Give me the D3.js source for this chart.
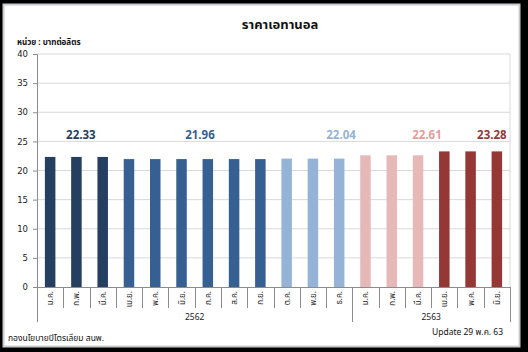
<!DOCTYPE html>
<html><head><meta charset="utf-8">
<script src="https://cdn.jsdelivr.net/npm/d3@7"></script>
<style>
html,body{margin:0;padding:0;background:#000;}
svg{display:block;}
text{font-family:Tahoma,"Noto Sans Thai","Noto Sans","DejaVu Sans",sans-serif;}
</style></head><body>
<svg id="c" width="528" height="352"></svg>
<script>
const months = ["ม.ค.","ก.พ.","มี.ค.","เม.ย.","พ.ค.","มิ.ย.","ก.ค.","ส.ค.","ก.ย.","ต.ค.","พ.ย.","ธ.ค.","ม.ค.","ก.พ.","มี.ค.","เม.ย.","พ.ค.","มิ.ย."];
const years = ["2562","2563"];
const yearSpan = [12, 6];
const values = [22.33,22.33,22.33,21.96,21.96,21.96,21.96,21.96,21.96,22.04,22.04,22.04,22.61,22.61,22.61,23.28,23.28,23.28];
const groupOf = [0,0,0,1,1,1,1,1,1,2,2,2,3,3,3,4,4,4];
const groupColors = ["#243F60","#376092","#95B3D7","#E6B9B8","#953735"];
const labelColors = ["#243F60","#376092","#95B3D7","#E39C9B","#953735"];
const groupLabels = ["22.33","21.96","22.04","22.61","23.28"];
const groupLabelPos = [1.17, 5.7, 11.07, 14.34, 16.81];
const yTicks = [0,5,10,15,20,25,30,35,40];

const svg = d3.select("#c");
svg.append("rect").attr("x",3.5).attr("y",4.5).attr("width",516).attr("height",342)
  .attr("fill","#fff").attr("stroke","#c8ccd0").attr("stroke-width",2);

const L=37, R=510, T=54, B=287;
const x = d3.scaleBand().domain(d3.range(months.length)).range([L,R]).paddingInner(0.6).paddingOuter(0.3);
const step = x.step();
const y = d3.scaleLinear().domain([0,40]).range([B,T]);

// grid
svg.append("g").selectAll("line").data(yTicks.filter(d=>d>0)).join("line")
  .attr("x1",L).attr("x2",R).attr("y1",d=>y(d)).attr("y2",d=>y(d))
  .attr("stroke","#d9d9d9").attr("stroke-width",1);
svg.append("line").attr("x1",R).attr("x2",R).attr("y1",T).attr("y2",B).attr("stroke","#d9d9d9");

// bars
svg.append("g").selectAll("rect").data(values).join("rect")
  .attr("x",(d,i)=>x(i)).attr("width",x.bandwidth())
  .attr("y",d=>y(d)).attr("height",d=>B-y(d))
  .attr("fill",(d,i)=>groupColors[groupOf[i]]);

// y axis
const ya = svg.append("g").attr("transform",`translate(${L},0)`)
  .call(d3.axisLeft(y).tickValues(yTicks).tickSize(4).tickPadding(5));
ya.select(".domain").attr("stroke","#8c8c8c");
ya.selectAll(".tick line").attr("stroke","#8c8c8c");
ya.selectAll("text").attr("font-size",8.5).attr("fill","#222").style("font-family","Tahoma,'DejaVu Sans',sans-serif");

// x axis line
svg.append("line").attr("x1",L).attr("x2",R).attr("y1",B+0.5).attr("y2",B+0.5).attr("stroke","#8c8c8c");

// category separators
const gx = svg.append("g");
let boundaries = [0];
let acc=0; yearSpan.forEach(s=>{acc+=s;boundaries.push(acc);});
d3.range(months.length+1).forEach(i=>{
  const xx = Math.round(L + step*i)+0.5;
  const isYear = boundaries.includes(i);
  gx.append("line").attr("x1",xx).attr("x2",xx).attr("y1",B).attr("y2",isYear?322:308)
    .attr("stroke","#8c8c8c");
});
// month labels
svg.append("g").selectAll("text").data(months).join("text")
  .attr("transform",(d,i)=>`translate(${x(i)+x.bandwidth()/2+3},${291}) rotate(-90)`)
  .attr("text-anchor","end").attr("font-size",8).attr("fill","#222").text(d=>d);
// year labels
svg.append("g").selectAll("text").data(years).join("text")
  .attr("x",(d,i)=>L+step*(boundaries[i]+boundaries[i+1])/2)
  .attr("y",320).attr("text-anchor","middle").attr("font-size",8.5).attr("fill","#222").text(d=>d);

// group value labels
svg.append("g").selectAll("text").data(groupLabels).join("text")
  .attr("x",(d,i)=>L+step*(groupLabelPos[i]+0.5))
  .attr("y",139).attr("text-anchor","middle").attr("font-size",11.5).attr("font-weight","bold")
  .attr("fill",(d,i)=>labelColors[i]).text(d=>d);

// titles
svg.append("text").attr("x",280).attr("y",29).attr("text-anchor","middle")
  .attr("font-size",13).attr("font-weight","bold").attr("fill","#111").text("ราคาเอทานอล");
svg.append("text").attr("x",17).attr("y",45).attr("font-size",8).attr("font-weight","bold").attr("fill","#111").text("หน่วย : บาทต่อลิตร");
svg.append("text").attr("x",8).attr("y",341).attr("font-size",8.5).attr("fill","#111").text("กองนโยบายปิโตรเลียม สนพ.");
svg.append("text").attr("x",432).attr("y",335).attr("font-size",8.5).attr("fill","#111").text("Update 29 พ.ค. 63");
</script>
</body></html>
